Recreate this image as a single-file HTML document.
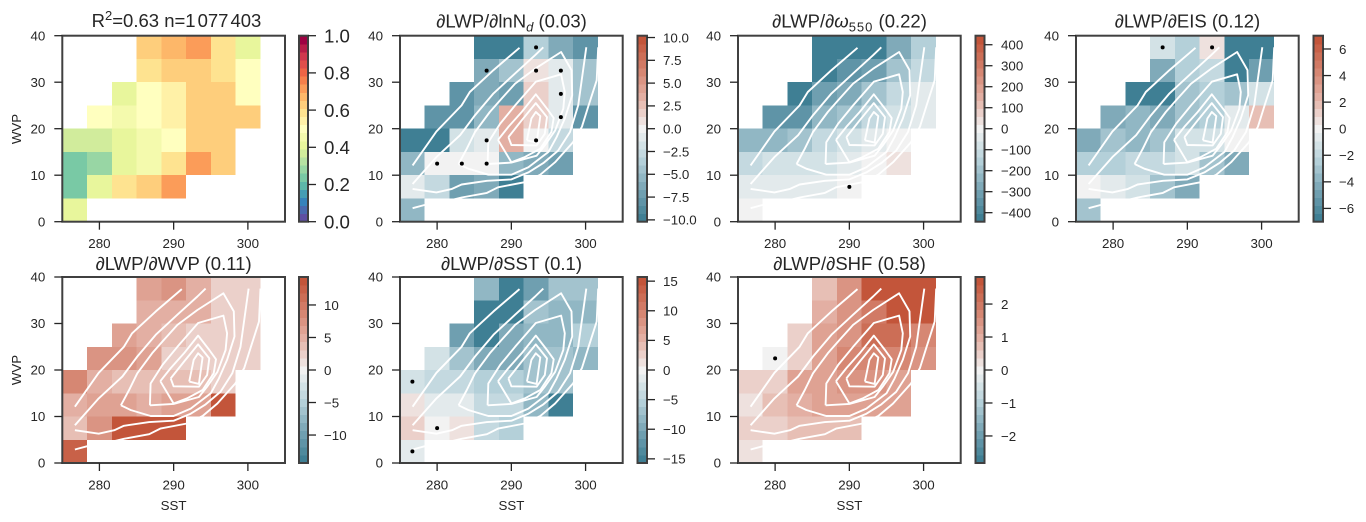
<!DOCTYPE html>
<html lang="en">
<head>
<meta charset="utf-8">
<title>LWP sensitivity maps</title>
<style>
html,body{margin:0;padding:0;background:#fff;width:1366px;height:522px;overflow:hidden}
svg{display:block;font-family:"Liberation Sans","DejaVu Sans",sans-serif}
.t{font-size:18.5px;fill:#262626;text-anchor:middle}
.l{font-size:13.33px;fill:#262626}
.m{text-anchor:middle}
</style>
</head>
<body>
<svg id="fig" xmlns="http://www.w3.org/2000/svg" width="1366" height="522" viewBox="0 0 1366 522">
<g id="marks"></g>
<text class="t" x="176.5" y="27">R<tspan dy="-7" font-size="13">2</tspan><tspan dy="7">=0.63 n=1</tspan><tspan dx="2">077</tspan><tspan dx="2">403</tspan></text>
<text class="t" x="511.5" y="27.5">∂LWP/∂lnN<tspan dy="4" font-size="13" font-style="italic">d</tspan><tspan dy="-4"> (0.03)</tspan></text>
<text class="t" x="849.5" y="27.5">∂LWP/∂<tspan font-style="italic">ω</tspan><tspan dy="4" font-size="13" letter-spacing="1">550</tspan><tspan dy="-4"> (0.22)</tspan></text>
<text class="t" x="1187.5" y="27.5">∂LWP/∂EIS (0.12)</text>
<text class="t" x="173.6" y="270">∂LWP/∂WVP (0.11)</text>
<text class="t" x="511.5" y="270">∂LWP/∂SST (0.1)</text>
<text class="t" x="849.5" y="270">∂LWP/∂SHF (0.58)</text>
<text class="l m" transform="translate(21,129) rotate(-90)">WVP</text>
<text class="l m" transform="translate(21,370) rotate(-90)">WVP</text>
<text class="l m" x="173.6" y="510">SST</text>
<text class="l m" x="511.5" y="510">SST</text>
<text class="l m" x="849.5" y="510">SST</text>
</svg>
<script>
const sstEdges = [275, 278.33, 281.67, 285, 288.33, 291.67, 295, 298.33, 301.67];
const wvpEdges = [0, 5, 10, 15, 20, 25, 30, 35, 40];
const sstTicks = [280, 290, 300];
const wvpTicks = [0, 10, 20, 30, 40];
const _ = null;

/* each grid: rows bottom (WVP 0-5) to top (WVP 35-40), columns by SST bin */
const valuesR2 = [
 [.42,_,_,_,_,_,_,_],
 [.25,.42,.58,.65,.73,_,_,_],
 [.25,.29,.41,.47,.6,.73,.65,_],
 [.36,.39,.42,.47,.5,.65,.65,_],
 [_,.48,.44,.48,.55,.62,.62,.65],
 [_,_,.43,.48,.55,.62,.62,.5],
 [_,_,_,.58,.65,.65,.6,.5],
 [_,_,_,.62,.67,.73,.6,.43]
];
const valuesLnNd = [
 [-5.5,_,_,_,_,_,_,_],
 [-1,-3,-7.5,-6,-9.5,_,_,_],
 [-5,0,0,0,-5,-6.5,-7,_],
 [-9.5,-9.5,-2.2,-1,3.5,0,-3,_],
 [_,-8,-8,-5.5,3.5,2,-1.2,-8],
 [_,_,-8,-6.5,-7,2,-1.2,-4.5],
 [_,_,_,-6.5,-4,1,-1.2,-4.5],
 [_,_,_,-9.5,-9.5,-3.5,-6,-8]
];
const valuesOmega = [
 [0,_,_,_,_,_,_,_],
 [-40,-40,-40,-40,0,_,_,_],
 [-130,-80,-80,-80,-30,0,40,_],
 [-240,-240,-190,-110,-80,-30,0,_],
 [_,-350,-350,-230,-200,-130,-90,-50],
 [_,_,-430,-310,-260,-200,-120,-50],
 [_,_,_,-420,-350,-310,-190,-120],
 [_,_,_,-420,-420,-420,-270,-150]
];
const valuesEis = [
 [-3,_,_,_,_,_,_,_],
 [0,-.5,-1.5,-3.3,-4,_,_,_],
 [-2.2,-2.2,-1.7,-2,-1.5,-3,-4,_],
 [-4,-3,-3.5,-3,-1.5,-1.2,0,_],
 [_,-4,-3.5,-4,-3,-2.5,-.5,1.7],
 [_,_,-6.8,-6.5,-3,-2.3,-3,-1.3],
 [_,_,_,-4.5,-2.5,-2,-6.5,-4.7],
 [_,_,_,-1.3,-2.3,.5,-6.7,-6.7]
];
const valuesWvp = [
 [12,_,_,_,_,_,_,_],
 [3.5,7,14,14,14,_,_,_],
 [5,6,6,5,6,6.5,13.5,_],
 [8.5,4.5,3.5,3.5,4,3.5,3,_],
 [_,8,7,6,2.5,3,3,3],
 [_,_,6,5,4,3,3,3],
 [_,_,_,4.5,4.5,4.5,3,3],
 [_,_,_,6,7.5,4.5,3,3]
];
const valuesSst = [
 [-1,_,_,_,_,_,_,_],
 [2.5,0,1.2,-3.5,-5,_,_,_],
 [1,-1.5,-1.5,-4,-4.5,-8.5,-15,_],
 [-3,-4.5,-4.5,-5,-6,-7,-7,_],
 [_,-3,-6.5,-10,-10,-7,-6.5,-8.5],
 [_,_,-11,-15,-10,-8,-8,-6],
 [_,_,_,-15,-15,-7,-8,-8],
 [_,_,_,-8,-14.5,-11,-6.5,-6.5]
];
const valuesShf = [
 [.35,_,_,_,_,_,_,_],
 [.6,.6,.7,.7,.7,_,_,_],
 [.3,.7,.9,1.2,1.3,1.3,1.2,_],
 [.5,.5,1.2,1.2,1.5,1.5,1.3,_],
 [_,0,.6,1.2,1.6,1.7,1.7,1.5],
 [_,_,.5,1.3,1.5,2.1,2.1,1.6],
 [_,_,_,1.1,1.5,2,2.6,2.7],
 [_,_,_,.75,1.5,2.7,2.7,2.7]
];

/* insignificant bins: [SST, WVP] */
const dotsLnNd = [[280,12.5],[283.33,12.5],[286.67,12.5],[286.67,17.5],[293.33,17.5],[296.67,22.5],[296.67,27.5],[286.67,32.5],[293.33,32.5],[296.67,32.5],[293.33,37.5]];
const dotsOmega = [[290,7.5]];
const dotsEis = [[286.67,37.5],[293.33,37.5]];
const dotsWvp = [];
const dotsSst = [[276.67,2.5],[280,7.5],[276.67,17.5]];
const dotsShf = [[280,22.5]];

const cbR2 = [0,.2,.4,.6,.8,1];
const cbLnNd = [-10,-7.5,-5,-2.5,0,2.5,5,7.5,10];
const cbOmega = [-400,-300,-200,-100,0,100,200,300,400];
const cbEis = [-6,-4,-2,0,2,4,6];
const cbWvp = [-10,-5,0,5,10];
const cbSst = [-15,-10,-5,0,5,10,15];
const cbShf = [-2,-1,0,1,2];

/* density contours: [SST, WVP] */
const contourA = [[276.7,12.1],[279.9,19.4],[283.3,25],[284.4,27.9],[287.6,32.6],[291.1,37.4]];
const contourB = [[276.7,8.1],[279.9,13.9],[283.1,18.6],[285.1,22.9],[287.6,27.6],[290.5,31.9],[293.2,35.8],[294.3,37.5]];
const contourC = [[282.9,12.4],[284,15.7],[285.1,19.3],[287.1,23.6],[288.7,26.5],[290.5,29.7],[293.2,32.9],[296.7,36.5],[298.1,32.6],[298.2,27.2],[297.2,22.2],[296.1,18.2],[295,15],[292.3,11.7],[290,10.1],[286.9,10.1],[284.2,11.4],[282.9,12.4]];
const contourD = [[286.8,12.4],[286.9,17.1],[288.5,21.1],[290.5,25],[293.3,30.1],[296.7,31.7],[297.2,27.9],[297,24.3],[295.9,19.6],[294.5,16.4],[293.4,14.2],[290,12.7],[286.8,12.4]];
const contourE = [[288.2,17.6],[289.6,20.4],[291.4,23.6],[293.3,27.4],[294.8,24.3],[295.7,22.3],[295.4,19.3],[293.9,15.7],[291.8,13.9],[290,12.8],[288.2,17.6]];
const contourF = [[289.6,18.2],[291.4,21.8],[293.3,25.5],[294.8,22.5],[294.5,18.9],[293.4,16.4],[290,16.5],[289.6,18.2]];
const contourG = [[292.1,17.5],[292.7,22.2],[293.3,23.6],[293.9,22.7],[293.4,17],[292.1,17.5]];
const contourH = [[276.7,7.05],[279.9,6.3],[282,7.05],[283.3,8],[286.7,8.8],[290,9.1],[292.3,10.6],[294.3,12.6],[296.3,15.3],[297.9,19.3],[299,25],[300.1,37.5]];
const contourI = [[276.7,2.9],[278.3,3.6],[281.5,4.5],[283.3,5.2],[286.7,6.2],[288.2,7.4],[291.8,8.5],[293.9,10.1],[295.9,12.8],[298.3,17.1],[299.5,20.4],[300.4,25],[301.5,30.4],[301.7,37.5]];
const contours = [contourA,contourB,contourC,contourD,contourE,contourF,contourG,contourH,contourI];

const AX_W = 222.7, AX_H = 186;
const LEVELS = 23;
const SVGNS = 'http://www.w3.org/2000/svg';
const root = document.getElementById('marks');

function mk(parent, tag, props, text) {
  const el = document.createElementNS(SVGNS, tag);
  for (const k in props) el.setAttribute(k, props[k]);
  if (text !== undefined) el.textContent = text;
  parent.appendChild(el);
  return el;
}
function lerpStops(stops, t) {
  const p = Math.max(0, Math.min(1, t)) * (stops.length - 1);
  const i = Math.min(stops.length - 2, Math.floor(p));
  const f = p - i;
  const a = stops[i], b = stops[i + 1];
  return 'rgb(' + [0,1,2].map(c => Math.round(a[c] + (b[c] - a[c]) * f)).join(',') + ')';
}
const spectral = [[94,79,162],[50,136,189],[102,194,165],[171,221,164],[230,245,152],[255,255,191],[254,224,139],[253,174,97],[244,109,67],[213,62,79],[158,1,66]];
const diverging = [[63,127,148],[122,166,182],[186,212,220],[242,242,242],[229,180,168],[212,130,110],[195,85,58]];
function quant(t) {
  const i = Math.min(LEVELS - 1, Math.max(0, Math.floor(t * LEVELS)));
  return i / (LEVELS - 1);
}

const panels = [
 {key:'r2', left:62.3, top:35.7, values:valuesR2, vmin:0, vmax:1, stops:spectral, cb:cbR2, dec:1, dots:[], lines:false, cbLeft:299, cbW:9, cbFont:18.67, cbPad:25},
 {key:'lnnd', left:400, top:35.7, values:valuesLnNd, vmin:-10.2, vmax:10.2, stops:diverging, cb:cbLnNd, dec:1, dots:dotsLnNd, lines:true, cbLeft:637.5, cbW:9.5, cbFont:13.33, cbPad:25.5},
 {key:'omega', left:738, top:35.7, values:valuesOmega, vmin:-443, vmax:443, stops:diverging, cb:cbOmega, dec:0, dots:dotsOmega, lines:true, cbLeft:975.5, cbW:9, cbFont:13.33, cbPad:25.5},
 {key:'eis', left:1076, top:35.7, values:valuesEis, vmin:-7, vmax:7, stops:diverging, cb:cbEis, dec:0, dots:dotsEis, lines:true, cbLeft:1313.5, cbW:9.5, cbFont:13.33, cbPad:25.5},
 {key:'wvp', left:62.3, top:277, values:valuesWvp, vmin:-14.3, vmax:14.3, stops:diverging, cb:cbWvp, dec:0, dots:dotsWvp, lines:true, cbLeft:299, cbW:9, cbFont:13.33, cbPad:25},
 {key:'sst', left:400, top:277, values:valuesSst, vmin:-15.7, vmax:15.7, stops:diverging, cb:cbSst, dec:0, dots:dotsSst, lines:true, cbLeft:637.5, cbW:9.5, cbFont:13.33, cbPad:25.5},
 {key:'shf', left:738, top:277, values:valuesShf, vmin:-2.82, vmax:2.82, stops:diverging, cb:cbShf, dec:0, dots:dotsShf, lines:true, cbLeft:975.5, cbW:9, cbFont:13.33, cbPad:25.5}
];

panels.forEach(function (p) {
  const x = v => p.left + (v - 275) / 30 * AX_W;
  const y = v => p.top + AX_H - v / 40 * AX_H;
  const norm = v => (v - p.vmin) / (p.vmax - p.vmin);
  const color = v => lerpStops(p.stops, quant(norm(v)));

  const g = mk(root, 'g', {});
  
  

  p.values.forEach(function (row, r) {
    row.forEach(function (v, c) {
      if (v === null) return;
      const cell = mk(g, 'rect', {
        x: x(sstEdges[c]), y: y(wvpEdges[r + 1]),
        width: x(sstEdges[c + 1]) - x(sstEdges[c]),
        height: y(wvpEdges[r]) - y(wvpEdges[r + 1]),
        fill: color(v), 'shape-rendering': 'crispEdges'
      });
      
      
    });
  });

  if (p.lines) {
    contours.forEach(function (pts) {
      const line = mk(g, 'polyline', {
        points: pts.map(q => x(q[0]).toFixed(1) + ',' + y(q[1]).toFixed(1)).join(' '),
        fill: 'none', stroke: '#fff', 'stroke-width': 1.9, 'stroke-linejoin': 'round'
      });
      
      
    });
  }

  p.dots.forEach(function (d) {
    const dot = mk(g, 'circle', {cx: x(d[0]), cy: y(d[1]), r: 2, fill: '#000'});
    
    
  });

  const frame = mk(g, 'rect', {x: p.left, y: p.top, width: AX_W, height: AX_H, fill: 'none', stroke: '#404040', 'stroke-width': 2});
  
  

  sstTicks.forEach(function (t) {
    const tick = mk(g, 'line', {x1: x(t), x2: x(t), y1: p.top + AX_H, y2: p.top + AX_H + 8, stroke: '#262626', 'stroke-width': 1.3});
    
    
    const lab = mk(g, 'text', {x: x(t), y: p.top + AX_H + 26.5, 'font-size': 13.33, fill: '#262626', 'text-anchor': 'middle'}, String(t));
    
    
  });
  wvpTicks.forEach(function (t) {
    const tick = mk(g, 'line', {x1: p.left - 8, x2: p.left, y1: y(t), y2: y(t), stroke: '#262626', 'stroke-width': 1.3});
    
    
    const lab = mk(g, 'text', {x: p.left - 17, y: y(t) + 4.7, 'font-size': 13.33, fill: '#262626', 'text-anchor': 'end'}, String(t));
    
    
  });

  const cbScale = v => p.top + AX_H - norm(v) * AX_H;
  for (let i = 0; i < LEVELS; i++) {
    const band = mk(g, 'rect', {
      x: p.cbLeft, y: p.top + AX_H - (i + 1) / LEVELS * AX_H,
      width: p.cbW, height: AX_H / LEVELS + 0.5,
      fill: lerpStops(p.stops, i / (LEVELS - 1)), 'shape-rendering': 'crispEdges'
    });
    
    
  }
  const cbFrame = mk(g, 'rect', {x: p.cbLeft, y: p.top, width: p.cbW, height: AX_H, fill: 'none', stroke: '#404040', 'stroke-width': 2});
  
  
  p.cb.forEach(function (t) {
    const right = p.cbLeft + p.cbW;
    const tick = mk(g, 'line', {x1: right, x2: right + 8, y1: cbScale(t), y2: cbScale(t), stroke: '#262626', 'stroke-width': 1.3});
    
    
    const txt = t.toFixed(p.dec).replace('-', '\u2212');
    const lab = mk(g, 'text', {x: p.cbLeft + p.cbPad, y: cbScale(t) + p.cbFont * 0.36, 'font-size': p.cbFont, fill: '#262626'}, txt);
    
    
  });
});
</script>
</body>
</html>
